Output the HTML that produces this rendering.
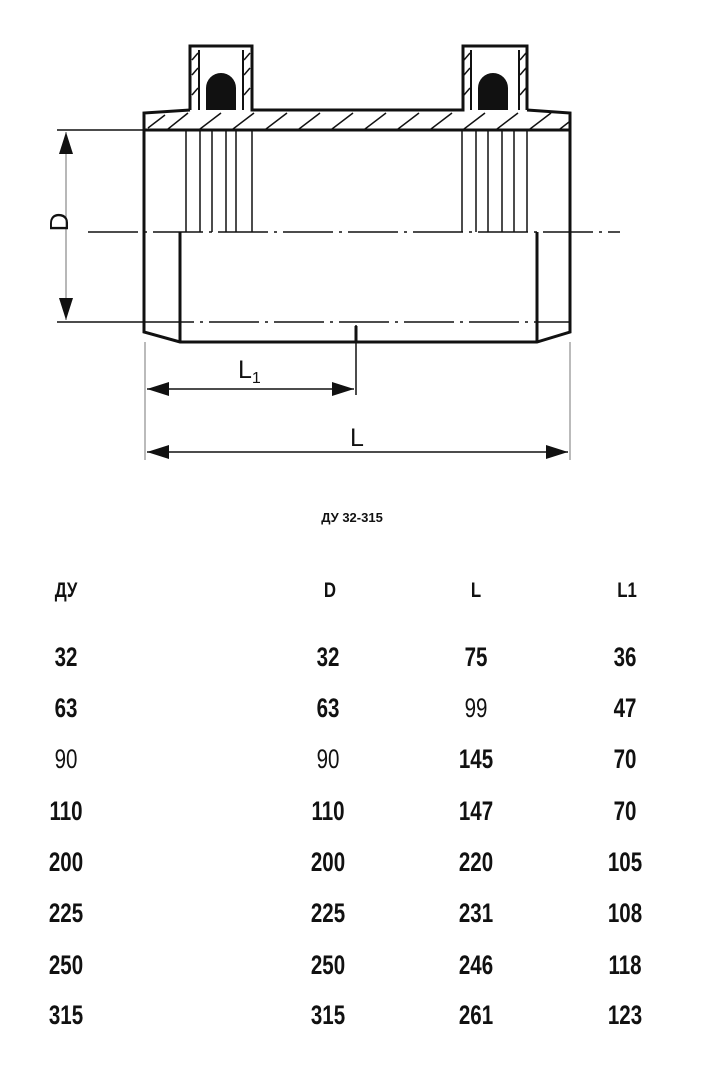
<!DOCTYPE html>
<html><head><meta charset="utf-8"><style>
body{margin:0;width:705px;height:1069px;background:#fff;overflow:hidden;position:relative;font-family:"Liberation Sans",sans-serif;}
.t{position:absolute;transform:translateX(-50%) scaleX(0.76);color:#111;font-weight:bold;font-size:27px;line-height:1;}
.h{font-size:21px;transform:translateX(-50%) scaleX(0.8);}
.n{font-weight:normal;}
.s{position:absolute;transform:translateX(-50%);color:#111;font-weight:bold;font-size:13px;line-height:1;}
</style></head><body>
<svg width="705" height="500" style="position:absolute;left:0;top:0" xmlns="http://www.w3.org/2000/svg">
<defs><marker id="a" markerWidth="22" markerHeight="14" refX="22" refY="7" orient="auto-start-reverse" markerUnits="userSpaceOnUse"><path d="M0,0 L22,7 L0,14 z" fill="#111"/></marker></defs>
<g stroke="#111" fill="none">
<line x1="57" y1="130" x2="144" y2="130" stroke-width="1.5"/>
<line x1="57" y1="322" x2="144" y2="322" stroke-width="1.5"/>
<line x1="66" y1="132" x2="66" y2="320" stroke-width="1.2" stroke="#888" marker-start="url(#a)" marker-end="url(#a)"/>
<line x1="145" y1="342" x2="145" y2="460" stroke-width="1" stroke="#777"/>
<line x1="570" y1="342" x2="570" y2="460" stroke-width="1" stroke="#777"/>
<line x1="356" y1="325" x2="356" y2="395" stroke-width="1.5"/>
<line x1="147" y1="389" x2="354" y2="389" stroke-width="1.5" marker-start="url(#a)" marker-end="url(#a)"/>
<line x1="147" y1="452" x2="568" y2="452" stroke-width="1.5" marker-start="url(#a)" marker-end="url(#a)"/>
<line x1="88" y1="232" x2="620" y2="232" stroke-width="1.5" stroke-dasharray="50,6,3,6"/>
<line x1="144" y1="322" x2="570" y2="322" stroke-width="1.5" stroke-dasharray="50,6,3,6"/>
<g stroke-width="3">
<path d="M190,110 L144,113 L144,332 L180,342 L537,342 L570,332 L570,113 L527,110"/>
<path d="M190,110 L190,46 L252,46 L252,110 L463,110 L463,46 L527,46 L527,110"/>
<line x1="144" y1="130" x2="570" y2="130"/>
<line x1="180" y1="232" x2="180" y2="342"/>
<line x1="537" y1="232" x2="537" y2="342"/>
<line x1="199" y1="50" x2="199" y2="110" stroke-width="2"/>
<line x1="243" y1="50" x2="243" y2="110" stroke-width="2"/>
<line x1="471" y1="50" x2="471" y2="110" stroke-width="2"/>
<line x1="519" y1="50" x2="519" y2="110" stroke-width="2"/>
</g>
<line x1="356" y1="326" x2="356" y2="342" stroke-width="3"/>
<g stroke-width="1.5">
<line x1="186" y1="131" x2="186" y2="232"/><line x1="200" y1="131" x2="200" y2="232"/><line x1="212" y1="131" x2="212" y2="232"/><line x1="226" y1="131" x2="226" y2="232"/><line x1="236" y1="131" x2="236" y2="232"/><line x1="252" y1="131" x2="252" y2="232"/>
<line x1="462" y1="131" x2="462" y2="232"/><line x1="476" y1="131" x2="476" y2="232"/><line x1="488" y1="131" x2="488" y2="232"/><line x1="502" y1="131" x2="502" y2="232"/><line x1="514" y1="131" x2="514" y2="232"/><line x1="527" y1="131" x2="527" y2="232"/>
</g>
<g stroke-width="1.5">
<line x1="148" y1="128" x2="165" y2="115"/><line x1="168" y1="129" x2="188" y2="113"/><line x1="200" y1="129" x2="221" y2="113"/><line x1="233" y1="129" x2="254" y2="113"/><line x1="266" y1="129" x2="287" y2="113"/><line x1="299" y1="129" x2="320" y2="113"/><line x1="332" y1="129" x2="353" y2="113"/><line x1="365" y1="129" x2="386" y2="113"/><line x1="398" y1="129" x2="419" y2="113"/><line x1="431" y1="129" x2="452" y2="113"/><line x1="464" y1="129" x2="485" y2="113"/><line x1="497" y1="129" x2="518" y2="113"/><line x1="530" y1="129" x2="551" y2="113"/><line x1="560" y1="129" x2="569" y2="122"/>
<line x1="192" y1="75" x2="198" y2="68"/><line x1="192" y1="95" x2="198" y2="88"/><line x1="192" y1="60" x2="198" y2="53"/>
<line x1="244" y1="75" x2="250" y2="68"/><line x1="244" y1="95" x2="250" y2="88"/><line x1="244" y1="60" x2="250" y2="53"/>
<line x1="464" y1="75" x2="470" y2="68"/><line x1="464" y1="95" x2="470" y2="88"/><line x1="464" y1="60" x2="470" y2="53"/>
<line x1="520" y1="75" x2="526" y2="68"/><line x1="520" y1="95" x2="526" y2="88"/><line x1="520" y1="60" x2="526" y2="53"/>
</g>
</g>
<path d="M206,110 L206,88 A15,15 0 0 1 236,88 L236,110 Z" fill="#111"/>
<path d="M478,110 L478,88 A15,15 0 0 1 508,88 L508,110 Z" fill="#111"/>
<text x="61" y="222" transform="rotate(-90 61 222)" text-anchor="middle" font-family="Liberation Sans,sans-serif" font-size="26" fill="#111" dominant-baseline="middle">D</text>
<text x="238" y="378" font-family="Liberation Sans,sans-serif" font-size="25" fill="#111">L<tspan font-size="16" dy="5">1</tspan></text>
<text x="357" y="446" text-anchor="middle" font-family="Liberation Sans,sans-serif" font-size="25" fill="#111">L</text>
</svg>
<div class="s" style="left:352px;top:511px;">ДУ 32-315</div>
<div class="t h" style="left:66px;top:580px">ДУ</div>
<div class="t h" style="left:330px;top:580px">D</div>
<div class="t h" style="left:476px;top:580px">L</div>
<div class="t h" style="left:627px;top:580px">L1</div>

<div class="t" style="left:66px;top:644px">32</div><div class="t" style="left:328px;top:644px">32</div><div class="t" style="left:476px;top:644px">75</div><div class="t" style="left:625px;top:644px">36</div>
<div class="t" style="left:66px;top:695px">63</div><div class="t" style="left:328px;top:695px">63</div><div class="t n" style="left:476px;top:695px">99</div><div class="t" style="left:625px;top:695px">47</div>
<div class="t n" style="left:66px;top:746px">90</div><div class="t n" style="left:328px;top:746px">90</div><div class="t" style="left:476px;top:746px">145</div><div class="t" style="left:625px;top:746px">70</div>
<div class="t" style="left:66px;top:798px">110</div><div class="t" style="left:328px;top:798px">110</div><div class="t" style="left:476px;top:798px">147</div><div class="t" style="left:625px;top:798px">70</div>
<div class="t" style="left:66px;top:849px">200</div><div class="t" style="left:328px;top:849px">200</div><div class="t" style="left:476px;top:849px">220</div><div class="t" style="left:625px;top:849px">105</div>
<div class="t" style="left:66px;top:900px">225</div><div class="t" style="left:328px;top:900px">225</div><div class="t" style="left:476px;top:900px">231</div><div class="t" style="left:625px;top:900px">108</div>
<div class="t" style="left:66px;top:952px">250</div><div class="t" style="left:328px;top:952px">250</div><div class="t" style="left:476px;top:952px">246</div><div class="t" style="left:625px;top:952px">118</div>
<div class="t" style="left:66px;top:1002px">315</div><div class="t" style="left:328px;top:1002px">315</div><div class="t" style="left:476px;top:1002px">261</div><div class="t" style="left:625px;top:1002px">123</div>
</body></html>
